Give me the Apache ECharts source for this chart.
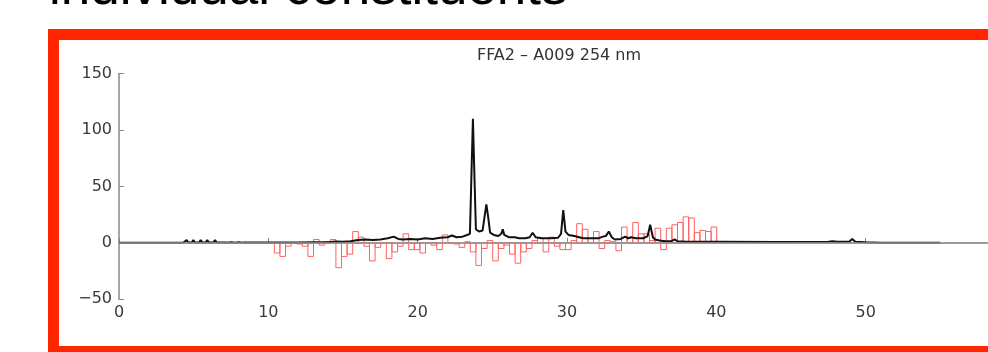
<!DOCTYPE html>
<html>
<head>
<meta charset="utf-8">
<script src="https://cdn.jsdelivr.net/npm/echarts@6/dist/echarts.min.js"></script>
<style>
html, body { margin: 0; padding: 0; background: #fff; overflow: hidden; }
#chart { position: absolute; left: 0; top: 0; width: 988px; height: 352px; }
#heading { position: absolute; left: 49px; top: -41px; font: 53px/1 "Liberation Sans", Arial, sans-serif; color: #000; white-space: nowrap; z-index: 2; }
</style>
</head>
<body>
<div id="chart"></div>
<div id="heading">individual constituents</div>
<script>
// chromatogram trace: [retention time (min), absorbance]
const trace = [
  [0, 0], [4.3, 0], [4.43, 0.4], [4.53, 2.5], [4.63, 0.4], [4.88, 0.4], [4.98, 2.5], [5.08, 0.4],
  [5.37, 0.4], [5.47, 2.5], [5.57, 0.4], [5.81, 0.4], [5.91, 2.5], [6.01, 0.4], [6.33, 0.4], [6.43, 2.5],
  [6.53, 0.4], [7.2, 0.2], [7.5, 0.6], [7.8, 0.2], [8.0, 0.6], [8.3, 0.2], [10, 0.2], [12, 0.3],
  [13, 0.5], [14, 0.6], [14.5, 1.2], [15, 1.0], [15.5, 1.5], [16, 2.5], [16.5, 3], [17, 2.5],
  [17.5, 3], [18, 4], [18.4, 5.5], [18.7, 3.5], [19, 3], [19.5, 3.5], [20, 3], [20.5, 4],
  [21, 3.5], [21.5, 4.5], [22, 5], [22.3, 6.5], [22.6, 5], [23, 5.5], [23.3, 7], [23.5, 8],
  [23.6, 60], [23.7, 110], [23.8, 60], [23.9, 12], [24.1, 10], [24.35, 11], [24.5, 25], [24.6, 34],
  [24.7, 25], [24.85, 9], [25.1, 7], [25.4, 6], [25.6, 8], [25.7, 12], [25.8, 7], [26.1, 5],
  [26.5, 5], [26.8, 4], [27.2, 4], [27.5, 5], [27.7, 9], [27.9, 5], [28.3, 4], [28.9, 4],
  [29.4, 4.5], [29.6, 8], [29.75, 29], [29.9, 10], [30.1, 7], [30.5, 6], [30.8, 5], [31.1, 4],
  [31.7, 4], [32.1, 4], [32.4, 5.5], [32.6, 6], [32.8, 10], [33.0, 5], [33.2, 3], [33.6, 3.5],
  [33.9, 5.5], [34.1, 4], [34.3, 5], [34.6, 4], [35.1, 4], [35.4, 6], [35.57, 16], [35.75, 5],
  [35.9, 3], [36.2, 2], [36.6, 1.5], [37.0, 1.5], [37.2, 3], [37.4, 1.5], [38, 1], [40, 1],
  [44, 0.8], [47.5, 1], [47.8, 1.5], [48.1, 1], [48.9, 1], [49.1, 3.5], [49.3, 1], [50, 0.5],
  [51, 0], [55, 0]
];

// collected fractions: first fraction start, fraction width (min), activity per fraction
const fracStart = 10.4;
const fracWidth = 0.375;
const fracValues = [
  -9, -12, -3, 0, -1, -3, -12, 3, -2, 1,
  3, -22, -12, -10, 10, 5, -3, -16, -4, 0,
  -14, -8, -3, 8, -6, -6, -9, 0, -2, -6,
  7, 0, -1, -4, 1, -8, -20, -5, 2, -16,
  -5, -2, -10, -18, -8, -5, 2, 4, -8, 5,
  -3, -6, -6, 2, 17, 12, 4, 10, -5, 2,
  1, -7, 14, 5, 18, 8, 8, 2, 13, -6,
  13, 16, 18, 23, 22, 9, 11, 10, 14
];

const xTicks = [0, 10, 20, 30, 40, 50, 60];
const yTicks = [-50, 0, 50, 100, 150];

const fractions = fracValues.map((v, i) => [
  fracStart + i * fracWidth,
  fracStart + (i + 1) * fracWidth,
  v
]);

const chart = echarts.init(document.getElementById('chart'));

const axisFont = { color: '#3a3a3a', fontSize: 16, fontFamily: '"DejaVu Sans", sans-serif' };

const option = {
  animation: false,
  grid: { left: 119, right: -27, top: 73.5, bottom: 52.7, outerBoundsMode: 'none' },
  graphic: [
    {
      type: 'rect',
      shape: { x: 53.5, y: 34.5, width: 1000, height: 317 },
      style: { fill: 'none', stroke: '#ff2600', lineWidth: 11 },
      silent: true
    },
    {
      type: 'text',
      x: 559, y: 56,
      style: {
        text: 'FFA2 – A009 254 nm',
        align: 'center', verticalAlign: 'middle',
        fill: '#333', fontSize: 16,
        fontFamily: '"DejaVu Sans", sans-serif'
      },
      silent: true
    }
  ],
  xAxis: {
    type: 'value',
    min: xTicks[0], max: xTicks[xTicks.length - 1], interval: 10,
    axisLine: { show: true, lineStyle: { color: '#888', width: 1.5 } },
    axisTick: { show: true, inside: true, length: 5, lineStyle: { color: '#888' } },
    axisLabel: Object.assign({ margin: 6 }, axisFont),
    splitLine: { show: false }
  },
  yAxis: {
    type: 'value',
    min: yTicks[0], max: yTicks[yTicks.length - 1], interval: 50,
    axisLine: { show: true, lineStyle: { color: '#888', width: 1.5 } },
    axisTick: { show: true, inside: true, length: 5, lineStyle: { color: '#888' } },
    axisLabel: Object.assign({
      margin: 7,
      formatter: v => String(v).replace('-', '\u2212')
    }, axisFont),
    splitLine: { show: false }
  },
  series: [
    {
      // fractions as hollow step boxes
      type: 'custom',
      data: fractions,
      encode: { x: [0, 1], y: 2 },
      renderItem(params, api) {
        const p0 = api.coord([api.value(0), 0]);
        const p1 = api.coord([api.value(1), api.value(2)]);
        return {
          type: 'rect',
          shape: {
            x: p0[0],
            y: Math.min(p0[1], p1[1]),
            width: p1[0] - p0[0],
            height: Math.abs(p1[1] - p0[1])
          },
          style: { fill: 'none', stroke: '#ff6060', lineWidth: 1 }
        };
      },
      z: 2
    },
    {
      type: 'line',
      data: trace,
      showSymbol: false,
      lineStyle: { color: '#111', width: 2 },
      markLine: {
        silent: true,
        symbol: 'none',
        label: { show: false },
        lineStyle: { color: '#999', type: 'solid', width: 1.5 },
        data: [{ yAxis: 0 }]
      },
      z: 3
    }
  ]
};

chart.setOption(option);
</script>
</body>
</html>
